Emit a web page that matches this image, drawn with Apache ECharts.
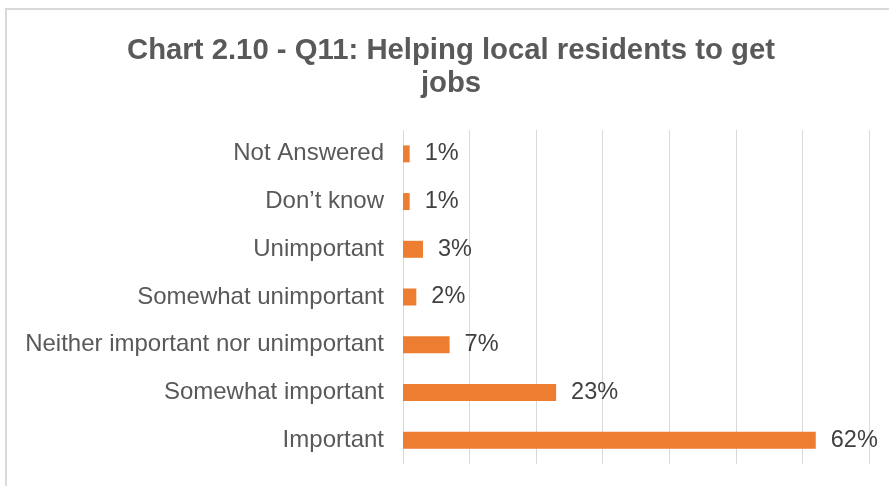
<!DOCTYPE html>
<html>
<head>
<meta charset="utf-8">
<script src="https://cdn.jsdelivr.net/npm/echarts@6/dist/echarts.min.js"></script>
<style>
  html, body { margin: 0; padding: 0; background: #fff; }
  #chart { width: 889px; height: 486px; }
</style>
</head>
<body>
<div id="chart"></div>
<script>
// Survey responses, listed bottom-to-top as drawn on the category axis
const categories = [
  'Important',
  'Somewhat important',
  'Neither important nor unimportant',
  'Somewhat unimportant',
  'Unimportant',
  'Don\u2019t know',
  'Not Answered'
];
const percentages = [62, 23, 7, 2, 3, 1, 1];
const titleText = 'Chart 2.10 - Q11: Helping local residents to get\njobs';

const chart = echarts.init(document.getElementById('chart'), null, { renderer: 'canvas' });

chart.setOption({
  animation: false,
  backgroundColor: '#ffffff',
  textStyle: { fontFamily: '"Liberation Sans", Arial, sans-serif' },
  title: {
    text: titleText,
    left: 446,
    top: 29,
    textAlign: 'center',
    textStyle: {
      fontSize: 29.3,
      fontWeight: 'bold',
      color: '#595959',
      lineHeight: 33,
      fontFamily: '"Liberation Sans", Arial, sans-serif'
    }
  },
  graphic: [{
    type: 'rect',
    shape: { x: 6, y: 9, width: 900, height: 500 },
    style: { fill: 'none', stroke: '#d9d9d9', lineWidth: 2 },
    silent: true
  }],
  grid: { left: 403, top: 130, width: 466, height: 334 },
  xAxis: {
    type: 'value',
    min: 0,
    max: 70,
    interval: 10,
    axisLabel: { show: false },
    axisLine: { show: false },
    axisTick: { show: false },
    splitLine: { show: true, lineStyle: { color: '#d9d9d9', width: 1 } }
  },
  yAxis: {
    type: 'category',
    data: categories,
    axisLine: { show: false },
    axisTick: { show: false },
    axisLabel: {
      margin: 19,
      fontSize: 24,
      color: '#595959',
      fontFamily: '"Liberation Sans", Arial, sans-serif'
    }
  },
  series: [{
    type: 'bar',
    data: percentages,
    barWidth: 17,
    itemStyle: { color: '#ED7D31' },
    label: {
      show: true,
      position: 'right',
      distance: 15,
      formatter: '{c}%',
      fontSize: 23.5,
      color: '#404040',
      fontFamily: '"Liberation Sans", Arial, sans-serif'
    }
  }]
});
</script>
</body>
</html>
